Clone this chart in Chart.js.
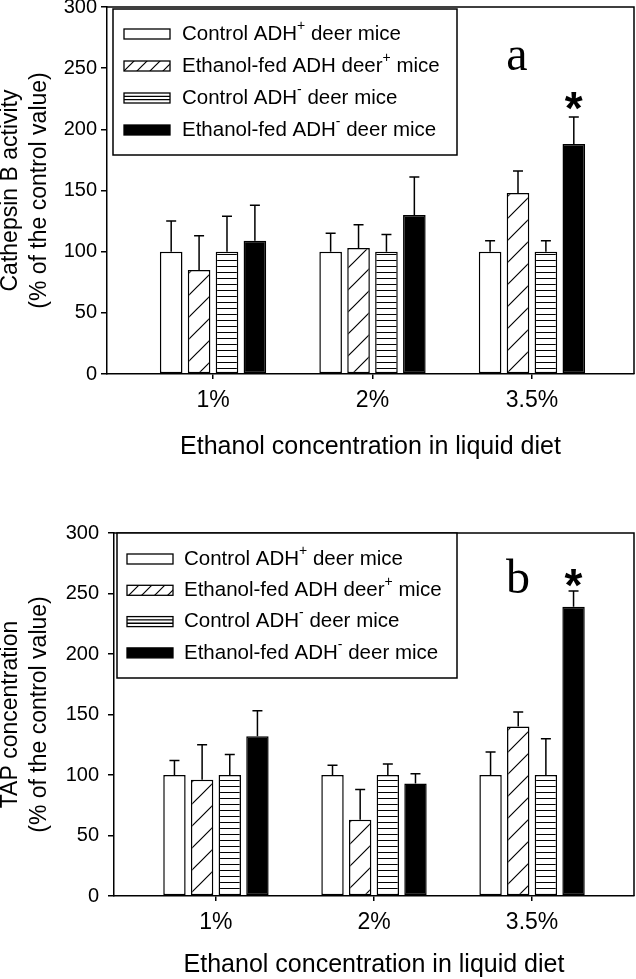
<!DOCTYPE html>
<html>
<head>
<meta charset="utf-8">
<script src="https://cdn.jsdelivr.net/npm/chart.js@4.4.1/dist/chart.umd.min.js"></script>
<style>
  html, body { margin: 0; padding: 0; background: #fff; }
  canvas { display: block; }
</style>
</head>
<body>
<canvas id="chart-a" width="636" height="490"></canvas>
<canvas id="chart-b" width="636" height="489"></canvas>
<script>
// Data
let categories = ['1%', '2%', '3.5%'];
let seriesNames = [
  'Control ADH{+} deer mice',
  'Ethanol-fed ADH deer{+} mice',
  'Control ADH{-} deer mice',
  'Ethanol-fed ADH{-} deer mice'
];
let yTicks = [0, 50, 100, 150, 200, 250, 300];

// Panel a: cathepsin B activity (% of control)
let cathepsinCtrlPlus = [100, 100, 100];
let cathepsinEthPlus = [85, 103, 148];
let cathepsinCtrlMinus = [100, 100, 100];
let cathepsinEthMinus = [109, 130, 188];
let cathepsinCtrlPlusErr = [25, 15, 9];
let cathepsinEthPlusErr = [28, 19, 18];
let cathepsinCtrlMinusErr = [29, 14, 9];
let cathepsinEthMinusErr = [29, 31, 22];

// Panel b: TAP concentration (% of control)
let tapCtrlPlus = [100, 100, 100];
let tapEthPlus = [96, 63, 140];
let tapCtrlMinus = [100, 100, 100];
let tapEthMinus = [132, 93, 239];
let tapCtrlPlusErr = [12, 8, 19];
let tapEthPlusErr = [29, 25, 12];
let tapCtrlMinusErr = [17, 9, 30];
let tapEthMinusErr = [21, 8, 13];

let sans = '"Liberation Sans", Arial, sans-serif';
let serif = '"Liberation Serif", "Times New Roman", serif';

Chart.defaults.font.family = sans;
Chart.defaults.color = '#000';


//=======================================
//  Fill patterns
//=======================================
function hatchPattern(size) {
  let c = document.createElement('canvas');
  c.width = size;
  c.height = size;
  let g = c.getContext('2d');
  g.fillStyle = '#fff';
  g.fillRect(0, 0, size, size);
  g.strokeStyle = '#000';
  g.lineWidth = 1.2;
  g.beginPath();
  g.moveTo(-2, size + 2); g.lineTo(size + 2, -2);
  g.moveTo(-2, 2); g.lineTo(2, -2);
  g.moveTo(size - 2, size + 2); g.lineTo(size + 2, size - 2);
  g.stroke();
  return g.createPattern(c, 'repeat');
}

function stripePattern(gap) {
  let c = document.createElement('canvas');
  c.width = gap;
  c.height = gap;
  let g = c.getContext('2d');
  g.fillStyle = '#fff';
  g.fillRect(0, 0, gap, gap);
  g.fillStyle = '#000';
  g.fillRect(0, 2, gap, 1);
  return g.createPattern(c, 'repeat');
}

let barFills = ['#fff', hatchPattern(22), stripePattern(6), '#000'];
let legendHatch = hatchPattern(13);


//=======================================
//  Text with {superscript} parts
//=======================================
function drawRichText(ctx, text, x, y, size) {
  let parts = text.split(/(\{[^}]*\})/);
  ctx.textAlign = 'left';
  ctx.textBaseline = 'middle';
  parts.forEach(p => {
    if (!p) return;
    if (p[0] === '{') {
      let s = p.slice(1, -1);
      ctx.font = Math.round(size * 0.7) + 'px ' + sans;
      ctx.fillText(s, x, y - size * 0.4);
      x += ctx.measureText(s).width;
    } else {
      ctx.font = size + 'px ' + sans;
      ctx.fillText(p, x, y);
      x += ctx.measureText(p).width;
    }
  });
}


//=======================================
//  Panel decorations: box, error bars, legend, titles
//=======================================
let decorPlugin = {
  id: 'decor',
  afterDatasetsDraw(chart, args, opts) {
    let ctx = chart.ctx;
    let yScale = chart.scales.y;
    ctx.save();
    ctx.strokeStyle = '#000';
    ctx.lineWidth = 1.5;

    // upper error bars
    chart.data.datasets.forEach((ds, d) => {
      let meta = chart.getDatasetMeta(d);
      meta.data.forEach((bar, i) => {
        let top = yScale.getPixelForValue(ds.data[i].y + ds.errors[i]);
        ctx.beginPath();
        ctx.moveTo(bar.x, bar.y);
        ctx.lineTo(bar.x, top);
        ctx.moveTo(bar.x - 5, top);
        ctx.lineTo(bar.x + 5, top);
        ctx.stroke();
      });
    });

    // significance star
    let s = opts.star;
    let sds = chart.data.datasets[s.series];
    let sbar = chart.getDatasetMeta(s.series).data[s.category];
    let sTop = yScale.getPixelForValue(sds.data[s.category].y + sds.errors[s.category]);
    ctx.fillStyle = '#000';
    ctx.font = 'bold 46px ' + sans;
    ctx.textAlign = 'center';
    ctx.textBaseline = 'alphabetic';
    ctx.fillText('*', sbar.x, sTop + opts.starGap);
    ctx.restore();
  },
  afterDraw(chart, args, opts) {
    let ctx = chart.ctx;
    let area = chart.chartArea;
    ctx.save();
    ctx.strokeStyle = '#000';
    ctx.fillStyle = '#000';
    ctx.lineWidth = 1.5;

    // top and right frame
    ctx.beginPath();
    ctx.moveTo(area.left, area.top);
    ctx.lineTo(area.right, area.top);
    ctx.lineTo(area.right, area.bottom);
    ctx.stroke();

    // legend
    let lg = opts.legend;
    ctx.fillStyle = '#fff';
    ctx.fillRect(lg.left, lg.top, lg.right - lg.left, lg.bottom - lg.top);
    ctx.strokeRect(lg.left, lg.top, lg.right - lg.left, lg.bottom - lg.top);
    seriesNames.forEach((name, i) => {
      let cy = lg.rowStart + i * lg.rowGap;
      let sx = lg.swatchX, sw = 46, sh = 10, sy = cy - sh / 2;
      ctx.lineWidth = 1.3;
      if (i === 0) {
        ctx.fillStyle = '#fff';
        ctx.fillRect(sx, sy, sw, sh);
      } else if (i === 1) {
        ctx.fillStyle = legendHatch;
        ctx.fillRect(sx, sy, sw, sh);
      } else if (i === 2) {
        ctx.fillStyle = '#fff';
        ctx.fillRect(sx, sy, sw, sh);
        ctx.beginPath();
        ctx.moveTo(sx, sy + sh / 3); ctx.lineTo(sx + sw, sy + sh / 3);
        ctx.moveTo(sx, sy + 2 * sh / 3); ctx.lineTo(sx + sw, sy + 2 * sh / 3);
        ctx.stroke();
      } else {
        ctx.fillStyle = '#000';
        ctx.fillRect(sx, sy, sw, sh);
      }
      ctx.strokeRect(sx, sy, sw, sh);
      ctx.fillStyle = '#000';
      drawRichText(ctx, name, lg.textX, cy, 20.5);
    });

    // panel letter
    ctx.font = '48px ' + serif;
    ctx.textAlign = 'center';
    ctx.textBaseline = 'alphabetic';
    ctx.fillText(opts.letter, opts.letterX, opts.letterY);

    // axis titles
    ctx.font = '25px ' + sans;
    ctx.textBaseline = 'middle';
    ctx.fillText(opts.xTitle, (area.left + area.right) / 2, area.bottom + opts.xTitleGap);
    ctx.font = '23px ' + sans;
    let midY = (area.top + area.bottom) / 2;
    ctx.translate(0, midY);
    ctx.rotate(-Math.PI / 2);
    ctx.fillText(opts.yTitle[0], 0, 11);
    ctx.fillText(opts.yTitle[1], 0, 40);
    ctx.restore();
  }
};


//=======================================
//  Chart builder
//=======================================
function makeDatasets(values, errors) {
  return values.map((vals, s) => ({
    label: seriesNames[s],
    data: vals.map((v, i) => ({ x: i, y: v })),
    errors: errors[s],
    backgroundColor: barFills[s],
    borderColor: '#000',
    borderWidth: 1.5,
    borderSkipped: false,
    categoryPercentage: 0.7,
    barPercentage: 0.81
  }));
}

function makeChart(id, values, errors, cfg) {
  return new Chart(document.getElementById(id), {
    type: 'bar',
    data: { datasets: makeDatasets(values, errors) },
    options: {
      responsive: false,
      animation: false,
      events: [],
      layout: { padding: { top: cfg.top, right: 2, left: 0, bottom: 0 } },
      plugins: {
        legend: { display: false },
        tooltip: { enabled: false },
        decor: cfg.decor
      },
      scales: {
        x: {
          type: 'linear',
          offset: false,
          min: cfg.xMin,
          max: cfg.xMax,
          afterBuildTicks: s => { s.ticks = categories.map((c, i) => ({ value: i })); },
          afterFit: s => { s.height = cfg.xHeight; s.paddingLeft = 0; s.paddingRight = 0; },
          ticks: {
            callback: v => categories[v],
            font: { size: 23 },
            color: '#000',
            padding: 8,
            maxRotation: 0,
            autoSkip: false
          },
          grid: { offset: false, drawOnChartArea: false, tickLength: 5, color: '#000', lineWidth: 1.5 },
          border: { color: '#000', width: 1.5 }
        },
        y: {
          min: 0,
          max: 300,
          afterBuildTicks: s => { s.ticks = yTicks.map(v => ({ value: v })); },
          afterFit: s => { s.width = cfg.yWidth; s.paddingTop = 0; s.paddingBottom = 0; },
          ticks: { font: { size: 20 }, color: '#000', padding: cfg.yPad },
          grid: { drawOnChartArea: false, tickLength: 6, color: '#000', lineWidth: 1.5 },
          border: { color: '#000', width: 1.5 }
        }
      }
    },
    plugins: [decorPlugin]
  });
}

makeChart('chart-a',
  [cathepsinCtrlPlus, cathepsinEthPlus, cathepsinCtrlMinus, cathepsinEthMinus],
  [cathepsinCtrlPlusErr, cathepsinEthPlusErr, cathepsinCtrlMinusErr, cathepsinEthMinusErr],
  {
    top: 7, xHeight: 116, yWidth: 107, yPad: 4, xMin: -0.665, xMax: 2.64,
    decor: {
      legend: { left: 113, top: 9, right: 457, bottom: 155, rowStart: 34, rowGap: 32, swatchX: 124, textX: 182 },
      letter: 'a', letterX: 517, letterY: 70,
      star: { series: 3, category: 2 }, starGap: 7,
      xTitle: 'Ethanol concentration in liquid diet', xTitleGap: 73,
      yTitle: ['Cathepsin B activity', '(% of the control value)']
    }
  });

makeChart('chart-b',
  [tapCtrlPlus, tapEthPlus, tapCtrlMinus, tapEthMinus],
  [tapCtrlPlusErr, tapEthPlusErr, tapCtrlMinusErr, tapEthMinusErr],
  {
    top: 43, xHeight: 83, yWidth: 114, yPad: 9, xMin: -0.645, xMax: 2.645,
    decor: {
      legend: { left: 117, top: 43, right: 457, bottom: 188, rowStart: 69, rowGap: 31.3, swatchX: 127, textX: 184 },
      letter: 'b', letterX: 518, letterY: 103,
      star: { series: 3, category: 2 }, starGap: 10,
      xTitle: 'Ethanol concentration in liquid diet', xTitleGap: 69,
      yTitle: ['TAP concentration', '(% of the control value)']
    }
  });
</script>
</body>
</html>
